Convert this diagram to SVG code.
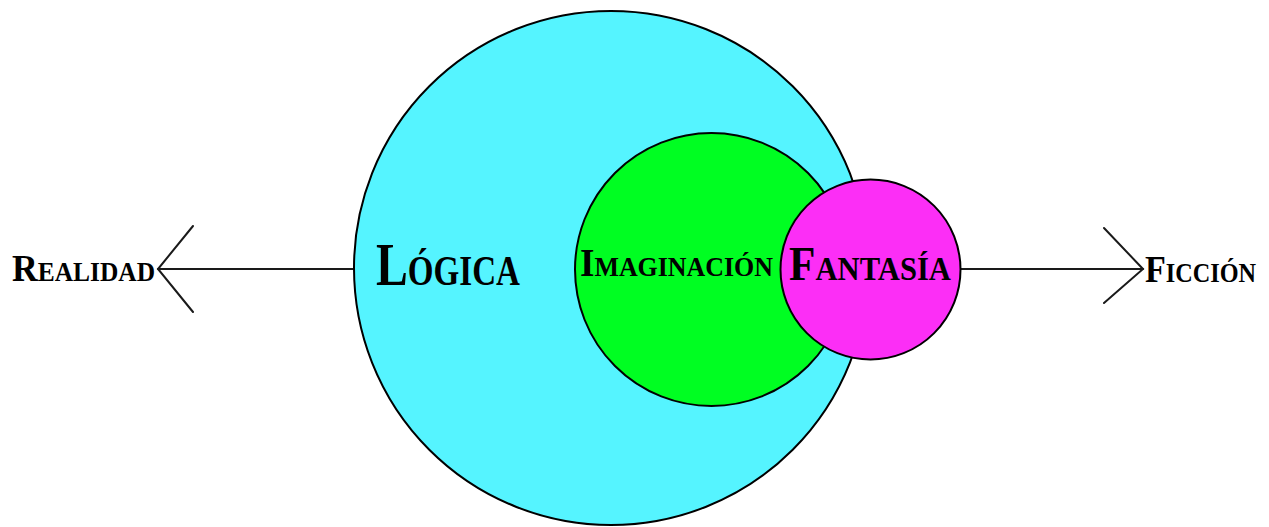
<svg xmlns="http://www.w3.org/2000/svg" width="1269" height="527" viewBox="0 0 1269 527">
<style>
.node{stroke:#000;stroke-width:2}
.conn{stroke:#1a1a1a;stroke-width:2;fill:none;stroke-linecap:round}
.lbl{font-family:"Liberation Serif","DejaVu Serif",serif;font-variant:small-caps;fill:#000;font-weight:bold}
</style>
<rect width="1269" height="527" fill="#fff"/>
<g id="connectors">
<line class="conn" x1="158" y1="269" x2="354" y2="269"/>
<polyline class="conn" points="193,226 158,269 193,312"/>
<line class="conn" x1="960" y1="269" x2="1143" y2="269"/>
<polyline class="conn" points="1104,228 1143,269 1104,303"/>
</g>
<g id="logica">
<circle class="node" cx="611" cy="268" r="257" fill="#55f4ff"/>
<text class="lbl" x="376" y="285" font-size="62" textLength="144" lengthAdjust="spacingAndGlyphs">Lógica</text>
</g>
<g id="imaginacion">
<circle class="node" cx="711.5" cy="269.5" r="136.5" fill="#00fe22"/>
<text class="lbl" x="580" y="276" font-size="40" textLength="193" lengthAdjust="spacingAndGlyphs">Imaginación</text>
</g>
<g id="fantasia">
<circle class="node" cx="870.5" cy="269.5" r="90" fill="#fc2ef6"/>
<text class="lbl" x="789" y="280" font-size="48" textLength="162" lengthAdjust="spacingAndGlyphs">Fantasía</text>
</g>
<g id="realidad">
<text class="lbl" x="12" y="281" font-size="38" textLength="143" lengthAdjust="spacingAndGlyphs">Realidad</text>
</g>
<g id="ficcion">
<text class="lbl" x="1145" y="282" font-size="38" textLength="111" lengthAdjust="spacingAndGlyphs">Ficción</text>
</g>
</svg>
